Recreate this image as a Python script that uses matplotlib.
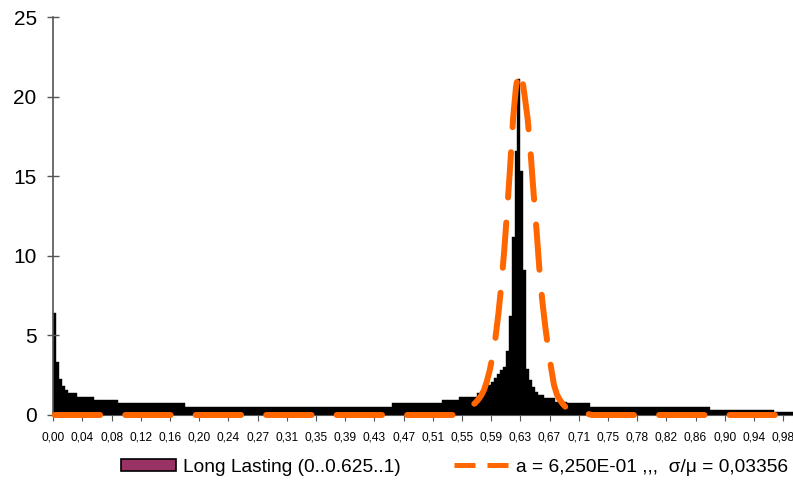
import matplotlib
matplotlib.use('Agg')
import matplotlib.pyplot as plt
from matplotlib.patches import Patch
from matplotlib.lines import Line2D

plt.rcParams['font.family'] = ['Liberation Sans', 'DejaVu Sans']

# histogram, 256 bins (plateaus as runs)
counts = ([6.4, 3.3, 2.25, 1.8, 1.57, 1.4, 1.4, 1.4]
          + [1.15] * 6
          + [0.94] * 8
          + [0.73] * 23
          + [0.52] * 71
          + [0.73] * 17
          + [0.94] * 6
          + [1.13] * 6
          + [1.36, 1.36, 1.5, 1.7, 1.9, 2.1, 2.3, 2.55, 2.8, 3.0, 4.0, 6.2,
             11.2, 16.6, 21.1, 15.3, 9.1, 2.9, 2.2, 1.78, 1.47, 1.26, 1.26]
          + [1.05] * 4
          + [0.84] * 4
          + [0.73] * 8
          + [0.52] * 41
          + [0.3] * 22
          + [0.2] * 9)

# fitted curve, read at bin positions
fit_bins = [0] + list(range(137, 185)) + [255]
fit_vals = [0.0,
            0.0, 0.05, 0.1, 0.2, 0.3, 0.45, 0.6, 0.75, 0.95, 1.2,
            1.55, 2.1, 2.8, 3.7, 4.9, 6.4, 8.2, 10.4, 12.9, 15.6,
            18.6, 20.6, 21.6, 21.3, 20.0, 18.6, 16.5, 14.0, 11.7, 9.2,
            7.2, 5.6, 4.2, 3.0, 1.9, 1.3, 0.95, 0.7, 0.5, 0.38,
            0.28, 0.2, 0.15, 0.12, 0.1, 0.08, 0.05, 0.0,
            0.0]

tick_labels = ['0,00', '0,04', '0,08', '0,12', '0,16', '0,20', '0,24', '0,27',
               '0,31', '0,35', '0,39', '0,43', '0,47', '0,51', '0,55', '0,59',
               '0,63', '0,67', '0,71', '0,75', '0,78', '0,82', '0,86', '0,90',
               '0,94', '0,98']

bar_label = 'Long Lasting (0..0.625..1)'
fit_label = 'a = 6,250E-01 ,,,  σ/μ = 0,03356'

orange = '#FF6600'

fig = plt.figure(figsize=(7.93, 4.82), dpi=100)
ax = fig.add_axes([53.3 / 793, 67 / 482, 747.3 / 793, 398 / 482])

ax.bar(range(len(counts)), counts, width=1.0, color='black', edgecolor='black',
       linewidth=0.3)
ax.plot(fit_bins, fit_vals, color=orange, lw=4.3, linestyle=(0, (7.6, 4.2)),
        dash_capstyle='round', solid_capstyle='round', clip_on=False, zorder=5)

ax.set_xlim(-0.5, 255.5)
ax.set_ylim(0, 25)
ax.set_yticks([0, 5, 10, 15, 20, 25])
ax.set_xticks([i * 10 - 0.5 for i in range(len(tick_labels))])
ax.set_xticklabels(tick_labels, fontsize=8.6)
ax.tick_params(axis='y', direction='inout', length=8, width=1, color='#555555',
               labelsize=15, pad=8)
ax.tick_params(axis='x', direction='out', length=4, width=0.8, color='#555555',
               pad=8)

for s in ['top', 'right']:
    ax.spines[s].set_visible(False)
ax.spines['left'].set_color('#555555')
ax.spines['left'].set_linewidth(1.2)
ax.spines['bottom'].set_color('#555555')
ax.spines['bottom'].set_linewidth(0.8)

handles = [Patch(facecolor='#993366', edgecolor='black', linewidth=1.2),
           Line2D([0], [0], color=orange, lw=3.6, linestyle=(0, (4.2, 2.4)))]
fig.legend(handles, [bar_label, fit_label], loc='center',
           bbox_to_anchor=(0.573, 0.031), ncol=2, frameon=False, fontsize=13.8,
           handlelength=2.9, handleheight=0.57, handletextpad=0.36,
           columnspacing=2.75)

plt.savefig('out.png', dpi=100)
